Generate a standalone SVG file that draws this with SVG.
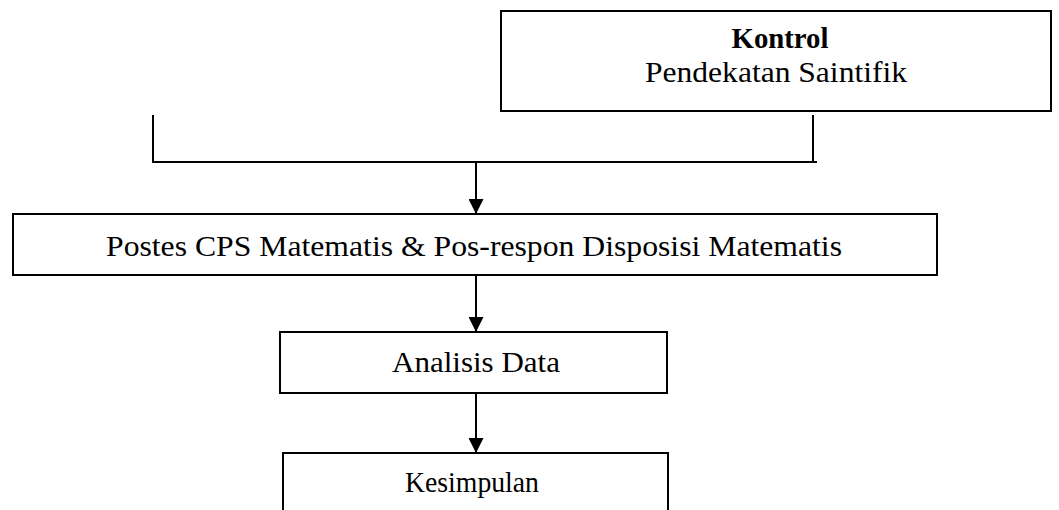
<svg xmlns="http://www.w3.org/2000/svg" width="1059" height="510" viewBox="0 0 1059 510">
<defs>
<style>
.box{fill:#fff;stroke:#000;stroke-width:2}
.ln{fill:none;stroke:#000;stroke-width:2}
.t{font-family:"Liberation Serif","Times New Roman",serif;font-size:29px;fill:#000;text-anchor:middle}
.b{font-weight:bold}
</style>
<marker id="a" markerWidth="15" markerHeight="15" viewBox="0 0 15 15" refX="15" refY="7.5" orient="auto" markerUnits="userSpaceOnUse">
<path d="M0,0 L15,7.5 L0,15 Z" fill="#000"/>
</marker>
</defs>
<rect width="1059" height="510" fill="#fff"/>
<g id="connectors">
<polyline class="ln" points="153,115 153,162 817,162"/>
<line class="ln" x1="813" y1="115" x2="813" y2="162"/>
<line class="ln" x1="476" y1="162" x2="476" y2="214" marker-end="url(#a)"/>
<line class="ln" x1="476" y1="275" x2="476" y2="332" marker-end="url(#a)"/>
<line class="ln" x1="476" y1="393" x2="476" y2="453" marker-end="url(#a)"/>
</g>
<g id="kontrol">
<rect class="box" x="501" y="11" width="550" height="100"/>
<text class="t b" x="780" y="48" textLength="97" lengthAdjust="spacingAndGlyphs">Kontrol</text>
<text class="t" x="776" y="82" textLength="262" lengthAdjust="spacingAndGlyphs">Pendekatan  Saintifik</text>
</g>
<g id="postes">
<rect class="box" x="13" y="214" width="924" height="61"/>
<text class="t" x="474" y="256" font-size="30" textLength="736" lengthAdjust="spacingAndGlyphs">Postes CPS Matematis  &amp; Pos-respon Disposisi  Matematis</text>
</g>
<g id="analisis">
<rect class="box" x="280" y="332" width="387" height="61"/>
<text class="t" x="476" y="372" textLength="168" lengthAdjust="spacingAndGlyphs">Analisis  Data</text>
</g>
<g id="kesimpulan">
<rect class="box" x="283" y="453" width="385" height="70"/>
<text class="t" x="472" y="492" textLength="134" lengthAdjust="spacingAndGlyphs">Kesimpulan</text>
</g>
</svg>
